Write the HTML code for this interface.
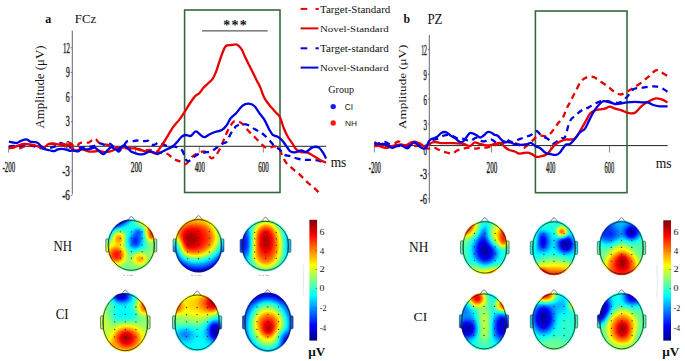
<!DOCTYPE html>
<html><head><meta charset="utf-8"><style>
html,body{margin:0;padding:0;background:#fff;width:685px;height:361px;overflow:hidden}
svg{display:block}
text{font-family:"Liberation Serif",serif;fill:#111}
</style></head><body>
<svg width="685" height="361" viewBox="0 0 685 361">
<defs>
<filter id="jet" color-interpolation-filters="sRGB" x="0" y="0" width="1" height="1">
<feComponentTransfer>
<feFuncR type="table" tableValues="0 0 0 0 0.5 1 1 1 0.5"/>
<feFuncG type="table" tableValues="0 0 0.5 1 1 1 0.5 0 0"/>
<feFuncB type="table" tableValues="0.5 1 1 1 0.5 0 0 0 0"/>
</feComponentTransfer>
</filter>
<linearGradient id="gg" x1="0" y1="1" x2="0" y2="0"><stop offset="0" stop-color="#000"/><stop offset="1" stop-color="#fff"/></linearGradient>
<filter id="bl1" color-interpolation-filters="sRGB" x="-150%" y="-150%" width="400%" height="400%"><feGaussianBlur stdDeviation="0.5"/></filter>
<filter id="bl2" color-interpolation-filters="sRGB" x="-150%" y="-150%" width="400%" height="400%"><feGaussianBlur stdDeviation="1.0"/></filter>
<filter id="bl3" color-interpolation-filters="sRGB" x="-150%" y="-150%" width="400%" height="400%"><feGaussianBlur stdDeviation="1.5"/></filter>
<filter id="bl4" color-interpolation-filters="sRGB" x="-150%" y="-150%" width="400%" height="400%"><feGaussianBlur stdDeviation="2.0"/></filter>
<filter id="bl5" color-interpolation-filters="sRGB" x="-150%" y="-150%" width="400%" height="400%"><feGaussianBlur stdDeviation="2.5"/></filter>
<filter id="bl6" color-interpolation-filters="sRGB" x="-150%" y="-150%" width="400%" height="400%"><feGaussianBlur stdDeviation="3.0"/></filter>
<filter id="bl7" color-interpolation-filters="sRGB" x="-150%" y="-150%" width="400%" height="400%"><feGaussianBlur stdDeviation="3.5"/></filter>
<filter id="bl8" color-interpolation-filters="sRGB" x="-150%" y="-150%" width="400%" height="400%"><feGaussianBlur stdDeviation="4.0"/></filter>
<filter id="bl9" color-interpolation-filters="sRGB" x="-150%" y="-150%" width="400%" height="400%"><feGaussianBlur stdDeviation="4.5"/></filter>
<filter id="bl10" color-interpolation-filters="sRGB" x="-150%" y="-150%" width="400%" height="400%"><feGaussianBlur stdDeviation="5.0"/></filter>
<filter id="bl11" color-interpolation-filters="sRGB" x="-150%" y="-150%" width="400%" height="400%"><feGaussianBlur stdDeviation="5.5"/></filter>
<filter id="bl12" color-interpolation-filters="sRGB" x="-150%" y="-150%" width="400%" height="400%"><feGaussianBlur stdDeviation="6.0"/></filter>
<filter id="bl13" color-interpolation-filters="sRGB" x="-150%" y="-150%" width="400%" height="400%"><feGaussianBlur stdDeviation="6.5"/></filter>
<filter id="bl14" color-interpolation-filters="sRGB" x="-150%" y="-150%" width="400%" height="400%"><feGaussianBlur stdDeviation="7.0"/></filter>
<filter id="bl15" color-interpolation-filters="sRGB" x="-150%" y="-150%" width="400%" height="400%"><feGaussianBlur stdDeviation="7.5"/></filter>
</defs>
<text transform="translate(45.34,22.57) scale(0.907,1)" font-size="13.33" font-weight="bold">a</text>
<text transform="translate(74.81,22.57) scale(0.984,1)" font-size="13.13">FCz</text>
<text transform="translate(44.14,128.43) rotate(-90) scale(1.125,1)" font-size="11.43">Amplitude (μV)</text>
<line x1="72.3" y1="30.7" x2="72.3" y2="194.5" stroke="#555" stroke-width="0.9"/>
<line x1="8.4" y1="146.3" x2="326.3" y2="146.3" stroke="#222" stroke-width="1"/>
<text transform="translate(62.98,52.65) scale(0.465,1)" font-size="14.85" fill="#222" stroke="#333" stroke-width="0.45">12</text>
<line x1="70.8" y1="47.75" x2="72.3" y2="47.75" stroke="#444" stroke-width="0.7"/>
<text transform="translate(65.97,77.15) scale(0.525,1)" font-size="14.63" fill="#222" stroke="#333" stroke-width="0.45">9</text>
<line x1="70.8" y1="72.4" x2="72.3" y2="72.4" stroke="#444" stroke-width="0.7"/>
<text transform="translate(65.85,101.80) scale(0.531,1)" font-size="14.63" fill="#222" stroke="#333" stroke-width="0.45">6</text>
<line x1="70.8" y1="97.05" x2="72.3" y2="97.05" stroke="#444" stroke-width="0.7"/>
<text transform="translate(65.80,126.45) scale(0.550,1)" font-size="14.63" fill="#222" stroke="#333" stroke-width="0.45">3</text>
<line x1="70.8" y1="121.7" x2="72.3" y2="121.7" stroke="#444" stroke-width="0.7"/>
<text transform="translate(65.89,151.10) scale(0.541,1)" font-size="14.52" fill="#222" stroke="#333" stroke-width="0.45">0</text>
<line x1="70.8" y1="146.35" x2="72.3" y2="146.35" stroke="#444" stroke-width="0.7"/>
<text transform="translate(62.18,175.75) scale(0.630,1)" font-size="14.63" fill="#222" stroke="#333" stroke-width="0.45">-3</text>
<line x1="70.8" y1="171" x2="72.3" y2="171" stroke="#444" stroke-width="0.7"/>
<text transform="translate(62.18,200.40) scale(0.622,1)" font-size="14.63" fill="#222" stroke="#333" stroke-width="0.45">-6</text>
<line x1="70.8" y1="195.65" x2="72.3" y2="195.65" stroke="#444" stroke-width="0.7"/>
<text transform="translate(2.56,171.85) scale(0.446,1)" font-size="15.41" fill="#222" stroke="#333" stroke-width="0.45">-200</text>
<line x1="8.6" y1="146.3" x2="8.6" y2="152.5" stroke="#555" stroke-width="0.7"/>
<text transform="translate(130.77,171.85) scale(0.482,1)" font-size="15.41" fill="#222" stroke="#333" stroke-width="0.45">200</text>
<line x1="135.5" y1="146.3" x2="135.5" y2="152.5" stroke="#555" stroke-width="0.7"/>
<text transform="translate(194.66,171.85) scale(0.446,1)" font-size="15.41" fill="#222" stroke="#333" stroke-width="0.45">400</text>
<line x1="199.3" y1="146.3" x2="199.3" y2="152.5" stroke="#555" stroke-width="0.7"/>
<text transform="translate(258.29,171.85) scale(0.454,1)" font-size="15.41" fill="#222" stroke="#333" stroke-width="0.45">600</text>
<line x1="263.3" y1="146.3" x2="263.3" y2="152.5" stroke="#555" stroke-width="0.7"/>
<text transform="translate(330.63,167.46) scale(0.964,1)" font-size="13.96">ms</text>
<rect x="184.6" y="10" width="95.4" height="182.5" fill="none" stroke="#37683c" stroke-width="1.6"/>
<text transform="translate(223.24,29.78) scale(0.953,1)" font-size="14.67" font-weight="bold">*</text>
<text transform="translate(231.54,29.78) scale(0.953,1)" font-size="14.67" font-weight="bold">*</text>
<text transform="translate(239.84,29.78) scale(0.953,1)" font-size="14.67" font-weight="bold">*</text>
<line x1="201.9" y1="30.9" x2="267.7" y2="30.9" stroke="#333" stroke-width="1"/>
<path d="M8.9 148.3 C9.9 148.2 12.9 147.4 14.7 147.4 C16.5 147.4 17.9 148.5 19.5 148.3 C21.1 148.1 22.4 146.8 24.4 146.4 C26.3 146.0 28.9 145.8 31.2 145.9 C33.5 146.0 36.2 146.6 38.0 146.9 C39.8 147.2 40.5 147.9 41.8 147.9 C43.1 147.9 44.3 147.6 45.7 146.9 C47.1 146.2 48.3 144.4 50.0 144.0 C51.7 143.6 53.7 144.3 55.8 144.5 C57.9 144.7 61.0 145.1 62.6 145.4 C64.2 145.7 64.4 146.8 65.5 146.4 C66.6 146.0 68.4 143.4 69.4 143.0 C70.4 142.6 70.3 143.3 71.3 144.0 C72.3 144.7 74.1 146.7 75.2 146.9 C76.3 147.1 77.3 145.7 78.1 145.0 C78.9 144.3 78.7 143.4 80.0 143.0 C81.3 142.6 84.4 142.6 85.9 142.5 C87.4 142.4 87.3 143.1 88.8 142.5 C90.2 141.9 93.1 138.9 94.6 138.7 C96.0 138.5 96.6 140.3 97.5 141.1 C98.4 141.9 98.8 142.9 100.0 143.5 C101.2 144.1 102.9 144.2 104.4 144.4 C105.9 144.7 107.4 144.6 108.9 145.0 C110.4 145.4 111.8 146.2 113.3 146.6 C114.8 147.0 116.2 147.4 117.7 147.7 C119.2 148.0 120.7 148.2 122.2 148.3 C123.7 148.4 125.1 148.2 126.6 148.3 C128.1 148.4 129.5 148.7 131.0 148.8 C132.5 148.9 134.0 148.6 135.5 148.8 C137.0 149.0 138.4 149.7 139.9 150.0 C141.4 150.3 142.6 150.5 144.3 150.5 C146.0 150.5 148.0 149.8 149.9 150.0 C151.8 150.2 153.9 151.0 156.0 151.5 C158.1 152.0 160.7 152.8 162.6 153.2 C164.5 153.6 166.2 153.4 167.6 154.0 C169.0 154.6 169.7 155.6 170.9 156.5 C172.1 157.4 173.5 158.7 175.0 159.5 C176.5 160.3 178.2 160.8 180.0 161.5 C181.8 162.2 184.0 164.7 186.0 164.0 C188.0 163.3 189.9 159.0 191.8 157.2 C193.7 155.4 195.7 154.3 197.6 153.3 C199.5 152.3 201.9 151.4 203.5 151.4 C205.1 151.4 206.0 152.2 207.3 153.3 C208.6 154.4 209.9 157.7 211.2 158.2 C212.5 158.7 213.8 157.5 215.1 156.2 C216.4 154.9 217.9 152.3 219.0 150.4 C220.1 148.5 220.8 147.2 221.9 144.6 C223.0 142.0 224.5 137.8 225.8 134.9 C227.1 132.0 228.3 129.3 229.6 127.1 C230.9 124.9 232.4 122.8 233.5 121.8 C234.6 120.8 234.6 121.0 236.0 121.3 C237.4 121.5 239.9 121.8 241.8 123.3 C243.7 124.8 245.7 128.0 247.6 130.1 C249.5 132.2 251.6 134.0 253.5 135.9 C255.4 137.8 257.5 139.9 259.3 141.7 C261.1 143.5 262.7 145.4 264.1 146.5 C265.6 147.6 266.7 148.0 268.0 148.1 C269.3 148.2 270.6 147.2 271.9 146.9 C273.2 146.6 274.5 146.1 275.8 146.5 C277.1 146.9 278.5 147.8 279.6 149.4 C280.7 151.0 281.4 154.0 282.5 156.2 C283.6 158.4 284.3 160.4 286.0 162.5 C287.7 164.6 290.2 166.5 292.5 168.6 C294.8 170.7 297.5 172.5 300.0 174.8 C302.5 177.1 304.9 180.0 307.4 182.3 C309.9 184.6 312.6 186.5 314.9 188.6 C317.2 190.7 320.1 193.8 321.1 194.8" fill="none" stroke="#e80000" stroke-width="2.3" stroke-linejoin="round" stroke-dasharray="6 4.5"/>

<path d="M8.9 146.4 C9.7 146.3 12.2 145.9 13.7 145.9 C15.1 145.9 15.8 146.6 17.6 146.4 C19.4 146.2 22.0 145.2 24.4 145.0 C26.8 144.8 30.2 145.1 32.1 145.4 C34.0 145.7 34.7 146.5 36.0 146.9 C37.3 147.3 38.5 147.8 40.0 148.0 C41.5 148.2 43.3 148.3 45.0 148.3 C46.7 148.3 47.9 148.5 50.0 148.0 C52.1 147.5 56.0 146.2 57.8 145.4 C59.6 144.6 59.6 143.1 60.7 143.0 C61.8 142.9 63.2 144.6 64.5 145.0 C65.8 145.4 67.1 144.8 68.4 145.4 C69.7 146.0 70.7 148.1 72.3 148.5 C73.9 148.9 75.9 148.2 78.0 148.0 C80.1 147.8 82.7 147.2 85.0 147.0 C87.3 146.8 90.0 146.8 92.0 146.5 C94.0 146.2 95.7 145.5 97.0 145.0 C98.3 144.5 99.0 143.4 100.0 143.3 C101.0 143.2 102.2 144.1 103.3 144.4 C104.4 144.7 105.6 145.1 106.7 145.0 C107.8 144.9 109.1 143.7 110.0 143.8 C110.9 143.9 111.3 144.7 112.2 145.5 C113.1 146.3 114.4 147.8 115.5 148.8 C116.6 149.8 117.9 151.6 118.8 151.6 C119.7 151.6 120.2 149.9 121.1 148.8 C122.0 147.7 123.5 146.1 124.4 144.9 C125.3 143.7 125.7 142.2 126.6 141.6 C127.5 141.0 128.8 141.2 129.9 141.1 C131.0 141.0 132.2 141.2 133.3 141.1 C134.4 141.0 135.3 140.5 136.6 140.5 C137.9 140.5 139.5 141.0 141.0 141.1 C142.5 141.2 144.2 141.1 145.5 141.1 C146.8 141.1 147.6 140.4 148.5 140.9 C149.4 141.4 150.0 143.3 151.0 144.0 C152.0 144.7 152.9 145.2 154.3 144.9 C155.7 144.6 157.4 142.3 159.3 142.4 C161.2 142.5 163.8 145.0 166.0 145.7 C168.2 146.4 170.7 146.2 172.6 146.5 C174.5 146.8 176.1 146.8 177.6 147.4 C179.1 148.0 180.6 148.7 181.7 149.9 C182.8 151.1 183.5 153.2 184.2 154.8 C184.9 156.5 185.2 158.8 186.0 159.8 C186.8 160.8 187.7 161.4 189.0 161.0 C190.3 160.6 192.0 158.5 193.8 157.2 C195.6 155.9 197.7 154.1 199.6 153.3 C201.5 152.5 203.5 152.7 205.4 152.4 C207.3 152.1 209.3 152.2 211.2 151.4 C213.1 150.6 215.1 148.8 217.0 147.5 C218.9 146.2 221.2 144.6 222.8 143.6 C224.4 142.6 225.4 143.3 226.7 141.7 C228.0 140.1 229.3 136.1 230.6 133.9 C231.9 131.7 233.6 129.9 234.5 128.6 C235.4 127.3 234.8 126.9 236.0 126.2 C237.2 125.5 239.7 124.4 241.8 124.2 C243.9 124.0 246.5 124.4 248.6 125.2 C250.7 126.0 252.5 128.0 254.4 129.1 C256.3 130.2 258.4 130.9 260.2 132.0 C262.0 133.1 263.5 134.5 265.1 135.9 C266.7 137.3 268.3 138.9 269.9 140.7 C271.5 142.5 273.2 145.1 274.8 146.5 C276.4 147.9 278.1 148.1 279.6 149.4 C281.1 150.7 282.0 153.3 283.7 154.4 C285.4 155.5 287.7 155.4 290.0 156.1 C292.3 156.8 295.0 158.0 297.5 158.6 C300.0 159.2 302.4 159.7 304.9 159.9 C307.4 160.1 309.9 159.7 312.4 159.9 C314.9 160.1 317.8 160.3 319.9 161.1 C322.0 161.9 324.1 164.3 324.9 164.9" fill="none" stroke="#0000e0" stroke-width="2.3" stroke-linejoin="round" stroke-dasharray="6 4.5"/>

<path d="M8.9 147.9 C9.9 147.7 12.9 147.4 14.7 146.9 C16.5 146.4 17.9 145.5 19.5 145.0 C21.1 144.5 22.6 144.1 24.4 144.0 C26.2 143.9 28.6 144.3 30.2 144.5 C31.8 144.7 32.8 144.7 34.1 145.0 C35.4 145.3 36.7 145.9 38.0 146.4 C39.3 146.9 40.5 147.9 41.8 147.9 C43.1 147.9 44.6 147.1 45.7 146.4 C46.8 145.8 47.3 144.5 48.6 144.0 C49.9 143.5 51.5 143.4 53.4 143.5 C55.2 143.6 58.0 144.4 59.7 144.5 C61.4 144.6 62.3 143.9 63.6 144.0 C64.9 144.1 66.4 144.9 67.4 145.0 C68.4 145.1 68.8 144.3 69.4 144.5 C70.1 144.7 70.7 145.4 71.3 146.4 C71.9 147.4 72.3 149.7 73.3 150.3 C74.3 151.0 75.6 150.5 77.1 150.3 C78.5 150.1 80.4 149.2 82.0 149.3 C83.6 149.4 85.3 150.4 86.8 150.8 C88.2 151.2 89.2 151.6 90.7 151.7 C92.2 151.8 94.0 151.4 95.5 151.3 C97.0 151.2 98.3 150.9 100.0 151.1 C101.7 151.2 103.7 152.2 105.5 152.2 C107.3 152.2 109.2 151.7 111.1 151.1 C112.9 150.5 114.8 149.4 116.6 148.8 C118.4 148.2 120.5 148.0 122.2 147.7 C123.9 147.4 125.1 147.1 126.6 147.2 C128.1 147.3 129.5 148.1 131.0 148.3 C132.5 148.5 134.0 148.1 135.5 148.3 C137.0 148.5 138.4 148.9 139.9 149.4 C141.4 149.9 142.6 150.7 144.3 151.1 C146.0 151.5 148.1 151.2 149.9 151.6 C151.7 151.9 153.5 153.6 155.1 153.2 C156.7 152.8 157.8 150.9 159.3 149.0 C160.8 147.1 162.6 144.1 164.3 141.5 C166.0 138.9 167.8 135.7 169.3 133.2 C170.8 130.7 171.8 128.8 173.4 126.6 C175.1 124.4 177.3 122.3 179.2 119.9 C181.1 117.5 182.9 114.6 184.6 112.0 C186.3 109.4 187.5 107.1 189.2 104.5 C190.9 101.9 193.2 98.4 194.9 96.5 C196.6 94.6 197.8 94.7 199.3 93.2 C200.8 91.7 202.2 89.3 203.7 87.6 C205.2 85.9 206.7 84.7 208.2 83.2 C209.7 81.7 211.3 80.7 212.6 78.8 C213.9 76.9 214.8 74.9 215.9 72.1 C217.0 69.3 218.1 65.5 219.2 62.2 C220.3 58.9 221.6 55.0 222.6 52.5 C223.6 50.0 224.3 48.4 225.0 47.2 C225.7 46.0 225.8 45.7 227.0 45.3 C228.2 44.9 230.5 45.1 232.0 45.0 C233.5 44.9 234.9 44.3 236.0 44.4 C237.1 44.5 237.5 44.7 238.5 45.6 C239.5 46.5 240.9 48.2 242.0 50.0 C243.1 51.8 243.7 54.0 244.9 56.6 C246.1 59.2 248.0 62.9 249.3 65.5 C250.6 68.1 251.3 69.5 252.6 72.1 C253.9 74.7 255.7 78.4 257.0 81.0 C258.3 83.6 259.3 85.0 260.4 87.6 C261.5 90.2 262.6 94.1 263.7 96.5 C264.8 98.9 265.7 100.2 267.0 102.0 C268.3 103.8 270.0 105.8 271.5 107.6 C273.0 109.3 274.5 110.9 275.9 112.5 C277.3 114.1 278.6 114.4 279.9 117.0 C281.2 119.6 282.4 124.8 283.7 128.0 C285.0 131.2 286.0 133.6 287.5 136.2 C289.0 138.8 291.1 141.5 292.5 143.7 C293.9 145.9 294.8 148.0 296.2 149.4 C297.6 150.8 299.3 151.7 301.2 152.2 C303.1 152.7 305.3 151.9 307.4 152.6 C309.5 153.2 311.6 154.9 313.7 156.1 C315.8 157.3 317.8 158.8 319.9 159.9 C322.0 161.0 325.1 162.2 326.1 162.6" fill="none" stroke="#e80000" stroke-width="2.3" stroke-linejoin="round"/>

<path d="M8.9 141.6 C9.6 141.8 11.5 142.3 12.8 142.5 C14.1 142.7 15.3 143.2 16.6 143.0 C17.9 142.8 19.2 141.7 20.5 141.1 C21.8 140.5 23.3 139.8 24.4 139.6 C25.5 139.3 26.3 139.3 27.3 139.6 C28.3 139.9 29.1 141.2 30.2 141.6 C31.3 142.0 33.0 141.9 34.1 142.1 C35.2 142.2 36.0 142.0 37.0 142.5 C38.0 143.0 38.8 143.9 39.9 145.0 C41.0 146.1 42.5 148.0 43.8 148.8 C45.1 149.6 46.3 149.5 47.6 149.8 C48.9 150.1 50.4 150.6 51.5 150.8 C52.6 151.0 53.4 151.2 54.4 151.0 C55.4 150.8 56.6 149.7 57.8 149.3 C59.0 148.9 60.3 148.8 61.6 148.8 C62.9 148.8 64.2 149.0 65.5 149.3 C66.8 149.6 68.1 150.6 69.4 150.8 C70.7 151.0 71.8 150.2 73.3 150.3 C74.8 150.4 76.6 151.6 78.1 151.3 C79.5 151.1 80.5 149.1 82.0 148.8 C83.5 148.5 85.3 149.3 86.8 149.3 C88.2 149.3 89.4 149.1 90.7 148.8 C92.0 148.5 93.3 147.3 94.6 147.6 C95.9 147.8 97.0 149.2 98.4 150.3 C99.9 151.4 101.9 154.1 103.3 154.2 C104.7 154.3 105.4 152.3 106.7 151.1 C108.0 149.9 109.8 147.6 111.1 147.2 C112.4 146.8 113.3 148.3 114.4 148.8 C115.5 149.3 116.6 150.3 117.7 150.0 C118.8 149.7 120.0 147.9 121.1 147.2 C122.2 146.4 123.3 145.3 124.4 145.5 C125.5 145.7 126.6 147.3 127.7 148.3 C128.8 149.3 129.7 150.8 131.0 151.6 C132.3 152.4 134.0 152.8 135.5 153.3 C137.0 153.8 138.4 154.3 139.9 154.4 C141.4 154.5 142.6 154.3 144.3 153.8 C146.0 153.3 148.3 151.5 149.9 151.3 C151.5 151.1 152.7 152.1 154.0 152.5 C155.3 152.9 156.2 154.2 157.6 154.0 C159.0 153.8 160.9 152.3 162.6 151.5 C164.3 150.7 165.9 149.8 167.6 149.0 C169.3 148.2 170.9 147.8 172.6 146.5 C174.3 145.2 176.1 143.2 177.6 141.5 C179.1 139.8 180.3 137.7 181.7 136.6 C183.1 135.5 184.5 135.1 186.0 135.0 C187.5 134.9 189.2 136.5 190.8 135.9 C192.4 135.3 194.1 131.6 195.7 131.4 C197.3 131.2 199.1 133.9 200.5 134.9 C201.9 135.9 202.9 137.3 204.4 137.2 C205.9 137.1 207.5 135.4 209.3 134.5 C211.1 133.6 213.0 132.7 215.1 132.0 C217.2 131.3 220.0 131.2 221.9 130.1 C223.8 129.0 225.2 127.2 226.7 125.2 C228.1 123.2 229.0 120.4 230.6 118.4 C232.2 116.4 234.0 115.5 236.0 113.4 C238.0 111.3 240.5 107.2 242.6 105.6 C244.7 104.0 246.6 103.5 248.6 103.6 C250.6 103.7 252.6 104.4 254.4 106.0 C256.2 107.6 257.8 110.9 259.3 113.0 C260.9 115.1 262.4 116.7 263.7 118.7 C265.0 120.7 266.1 123.3 267.0 125.0 C267.9 126.7 268.0 127.4 269.0 129.1 C270.0 130.8 271.4 133.6 272.8 134.9 C274.2 136.2 276.2 136.0 277.7 136.8 C279.2 137.6 280.2 138.3 281.6 139.8 C283.0 141.3 284.6 143.7 286.0 145.6 C287.4 147.5 288.5 150.0 290.0 151.1 C291.5 152.2 293.1 152.5 295.0 152.4 C296.9 152.3 299.3 150.5 301.2 150.4 C303.1 150.3 304.3 152.4 306.2 151.9 C308.1 151.4 310.3 148.2 312.4 147.4 C314.5 146.7 316.8 146.4 318.7 147.4 C320.6 148.4 322.4 151.7 323.6 153.6 C324.8 155.5 325.7 157.8 326.1 158.6" fill="none" stroke="#0000e0" stroke-width="2.3" stroke-linejoin="round"/>

<line x1="300.6" y1="8.9" x2="307.3" y2="8.9" stroke="#e80000" stroke-width="2"/><line x1="315.5" y1="8.9" x2="318.8" y2="8.9" stroke="#e80000" stroke-width="2"/>
<text transform="translate(320.08,12.52) scale(1.135,1)" font-size="9.67" fill="#222">Target-Standard</text>
<line x1="300.6" y1="28.4" x2="318.4" y2="28.4" stroke="#e80000" stroke-width="2"/>
<text transform="translate(319.97,31.71) scale(1.215,1)" font-size="8.94" fill="#222">Novel-Standard</text>
<line x1="300.6" y1="48.3" x2="307.3" y2="48.3" stroke="#0000e0" stroke-width="2"/><line x1="315.5" y1="48.3" x2="318.8" y2="48.3" stroke="#0000e0" stroke-width="2"/>
<text transform="translate(320.08,51.77) scale(1.167,1)" font-size="9.45" fill="#222">Target-standard</text>
<line x1="300.6" y1="67.6" x2="318.4" y2="67.6" stroke="#0000e0" stroke-width="2"/>
<text transform="translate(319.97,71.21) scale(1.235,1)" font-size="8.79" fill="#222">Novel-Standard</text>
<text transform="translate(328.30,93.01) scale(0.947,1)" font-size="10.63">Group</text>
<circle cx="333.2" cy="106.6" r="2.7" fill="#1a1aff"/>
<text transform="translate(344.78,109.82) scale(0.983,1)" font-size="8.45" style='font-family:"Liberation Sans",sans-serif' fill="#333">CI</text>
<circle cx="333.2" cy="123.0" r="2.7" fill="#ff1a1a"/>
<text transform="translate(344.94,126.10) scale(1.039,1)" font-size="7.97" style='font-family:"Liberation Sans",sans-serif' fill="#333">NH</text>
<text transform="translate(53.42,251.20) scale(0.920,1)" font-size="13.89">NH</text>
<text transform="translate(55.69,318.76) scale(0.947,1)" font-size="13.58">CI</text>
<text transform="translate(403.52,22.58) scale(0.967,1)" font-size="12.20" font-weight="bold">b</text>
<text transform="translate(427.41,23.80) scale(0.923,1)" font-size="14.05">PZ</text>
<text transform="translate(406.31,128.93) rotate(-90) scale(1.228,1)" font-size="10.66">Amplitude (μV)</text>
<line x1="429.3" y1="35" x2="429.3" y2="203" stroke="#555" stroke-width="0.9"/>
<line x1="374.2" y1="145.6" x2="667.7" y2="145.6" stroke="#222" stroke-width="1"/>
<text transform="translate(421.17,55.10) scale(0.378,1)" font-size="15.45" fill="#333" stroke="#333" stroke-width="0.45">12</text>
<line x1="427.8" y1="49.4" x2="429.3" y2="49.4" stroke="#444" stroke-width="0.7"/>
<text transform="translate(423.60,79.85) scale(0.443,1)" font-size="15.22" fill="#333" stroke="#333" stroke-width="0.45">9</text>
<line x1="427.8" y1="74.30000000000001" x2="429.3" y2="74.30000000000001" stroke="#444" stroke-width="0.7"/>
<text transform="translate(423.49,104.75) scale(0.448,1)" font-size="15.22" fill="#333" stroke="#333" stroke-width="0.45">6</text>
<line x1="427.8" y1="99.2" x2="429.3" y2="99.2" stroke="#444" stroke-width="0.7"/>
<text transform="translate(423.45,129.65) scale(0.465,1)" font-size="15.22" fill="#333" stroke="#333" stroke-width="0.45">3</text>
<line x1="427.8" y1="124.10000000000001" x2="429.3" y2="124.10000000000001" stroke="#444" stroke-width="0.7"/>
<text transform="translate(423.52,154.55) scale(0.457,1)" font-size="15.11" fill="#333" stroke="#333" stroke-width="0.45">0</text>
<line x1="427.8" y1="149.0" x2="429.3" y2="149.0" stroke="#444" stroke-width="0.7"/>
<text transform="translate(419.90,179.45) scale(0.562,1)" font-size="15.22" fill="#333" stroke="#333" stroke-width="0.45">-3</text>
<line x1="427.8" y1="173.9" x2="429.3" y2="173.9" stroke="#444" stroke-width="0.7"/>
<text transform="translate(419.90,204.35) scale(0.554,1)" font-size="15.22" fill="#333" stroke="#333" stroke-width="0.45">-6</text>
<line x1="427.8" y1="198.8" x2="429.3" y2="198.8" stroke="#444" stroke-width="0.7"/>
<text transform="translate(368.67,172.54) scale(0.415,1)" font-size="16.00" fill="#333" stroke="#333" stroke-width="0.45">-200</text>
<line x1="374.4" y1="145.6" x2="374.4" y2="152.5" stroke="#555" stroke-width="0.7"/>
<text transform="translate(486.58,172.54) scale(0.450,1)" font-size="15.85" fill="#333" stroke="#333" stroke-width="0.45">200</text>
<line x1="491.5" y1="145.6" x2="491.5" y2="152.5" stroke="#555" stroke-width="0.7"/>
<text transform="translate(546.08,172.54) scale(0.391,1)" font-size="16.00" fill="#333" stroke="#333" stroke-width="0.45">400</text>
<line x1="550.6" y1="145.6" x2="550.6" y2="152.5" stroke="#555" stroke-width="0.7"/>
<text transform="translate(604.61,172.54) scale(0.410,1)" font-size="15.85" fill="#333" stroke="#333" stroke-width="0.45">600</text>
<line x1="609.5" y1="145.6" x2="609.5" y2="152.5" stroke="#555" stroke-width="0.7"/>
<text transform="translate(655.73,168.46) scale(0.977,1)" font-size="13.96">ms</text>
<rect x="535.4" y="11" width="91.6" height="181.7" fill="none" stroke="#37683c" stroke-width="1.6"/>
<path d="M374.4 146.0 C375.3 146.0 378.1 145.9 380.0 146.0 C381.9 146.1 384.0 146.6 386.0 146.5 C388.0 146.4 390.0 146.3 392.0 145.5 C394.0 144.7 396.3 141.8 398.0 141.5 C399.7 141.2 400.7 142.8 402.0 143.5 C403.3 144.2 403.8 145.1 406.0 145.5 C408.2 145.9 412.7 145.9 415.0 146.0 C417.3 146.1 418.5 145.8 420.0 146.0 C421.5 146.2 422.5 147.1 424.0 147.5 C425.5 147.9 427.3 148.6 428.9 148.6 C430.4 148.6 431.8 147.4 433.3 147.5 C434.8 147.6 436.2 148.5 437.7 149.2 C439.2 149.8 440.7 150.8 442.2 151.4 C443.7 152.0 444.9 152.1 446.6 152.5 C448.3 152.9 450.5 153.9 452.2 153.6 C453.9 153.3 455.1 151.5 456.6 150.8 C458.1 150.1 459.5 149.6 461.0 149.2 C462.5 148.8 464.0 148.4 465.5 148.1 C467.0 147.8 468.1 147.4 470.0 147.5 C471.9 147.6 474.8 148.6 476.6 148.6 C478.5 148.6 479.4 147.7 481.1 147.5 C482.8 147.3 484.8 147.7 486.6 147.5 C488.4 147.3 490.2 147.0 492.1 146.4 C494.0 145.8 496.2 144.7 497.7 144.1 C499.2 143.5 499.7 143.4 501.0 143.0 C502.3 142.6 503.9 142.0 505.4 141.9 C506.9 141.8 508.4 142.3 509.9 142.5 C511.4 142.7 512.8 142.7 514.3 143.0 C515.8 143.3 517.2 143.6 518.7 144.5 C520.2 145.4 521.5 148.1 523.0 148.2 C524.5 148.3 526.1 146.2 527.6 145.0 C529.1 143.8 530.8 142.2 532.3 140.9 C533.8 139.6 535.0 137.8 536.3 136.9 C537.6 136.0 538.5 135.7 540.3 135.6 C542.1 135.5 545.1 136.7 546.9 136.3 C548.7 135.9 549.6 134.4 550.9 133.0 C552.2 131.6 553.6 129.4 554.9 127.6 C556.2 125.8 557.6 123.9 558.9 122.3 C560.2 120.7 561.6 120.0 562.9 117.7 C564.2 115.4 565.6 110.8 566.8 108.2 C568.0 105.7 568.6 105.0 570.0 102.4 C571.4 99.8 573.1 95.9 575.0 92.4 C576.9 88.9 579.1 83.8 581.2 81.2 C583.3 78.6 585.4 77.7 587.5 77.0 C589.6 76.3 591.6 76.3 593.7 77.0 C595.8 77.7 597.6 79.7 599.9 81.2 C602.2 82.7 605.1 84.5 607.4 86.2 C609.7 87.9 611.5 89.8 613.6 91.2 C615.8 92.6 618.1 94.4 620.3 94.5 C622.5 94.6 624.6 92.9 626.8 91.8 C629.0 90.7 631.0 89.4 633.4 87.9 C635.8 86.4 638.7 84.6 641.3 82.6 C643.9 80.6 646.8 78.1 649.2 76.1 C651.6 74.0 653.8 71.0 655.8 70.3 C657.8 69.6 659.1 71.1 661.1 72.1 C663.1 73.1 666.5 75.4 667.6 76.1" fill="none" stroke="#e80000" stroke-width="2.3" stroke-linejoin="round" stroke-dasharray="6 4.5"/>

<path d="M374.4 145.0 C375.3 144.7 378.2 143.5 380.0 143.0 C381.8 142.5 383.3 141.8 385.0 142.0 C386.7 142.2 388.3 143.8 390.0 144.5 C391.7 145.2 393.3 145.8 395.0 146.0 C396.7 146.2 398.3 145.8 400.0 146.0 C401.7 146.2 403.3 147.2 405.0 147.0 C406.7 146.8 408.3 145.7 410.0 145.0 C411.7 144.3 413.3 143.0 415.0 143.0 C416.7 143.0 418.3 144.5 420.0 145.0 C421.7 145.5 423.5 146.1 425.0 146.0 C426.5 145.9 427.7 145.1 428.9 144.2 C430.1 143.2 430.7 141.2 432.2 140.3 C433.7 139.4 435.7 139.4 437.7 138.6 C439.7 137.8 442.2 135.9 444.4 135.3 C446.6 134.8 449.0 134.8 451.0 135.3 C453.0 135.8 454.9 137.6 456.6 138.1 C458.3 138.6 459.6 137.9 461.0 138.1 C462.4 138.3 463.5 139.1 465.0 139.5 C466.5 139.9 468.4 141.0 470.0 140.8 C471.6 140.7 473.1 139.2 474.4 138.6 C475.7 138.0 476.7 137.1 477.8 137.5 C478.9 137.9 480.0 140.2 481.1 140.8 C482.2 141.5 483.1 141.6 484.4 141.4 C485.7 141.2 487.5 140.0 488.8 139.7 C490.1 139.4 490.8 139.1 492.1 139.7 C493.4 140.2 494.9 142.3 496.6 143.0 C498.3 143.7 500.6 144.3 502.1 143.6 C503.6 142.9 504.3 139.1 505.4 138.6 C506.5 138.1 507.7 140.2 508.8 140.8 C509.9 141.4 510.8 142.0 512.1 141.9 C513.4 141.8 515.1 140.8 516.5 140.3 C517.9 139.8 518.8 139.5 520.3 138.9 C521.8 138.3 523.8 137.6 525.6 136.9 C527.4 136.2 529.2 136.0 531.0 135.0 C532.8 134.0 534.5 130.9 536.3 131.0 C538.1 131.1 539.8 134.4 541.6 135.6 C543.4 136.8 545.4 137.3 546.9 138.3 C548.4 139.3 549.8 140.7 550.9 141.6 C552.0 142.5 552.5 143.7 553.6 143.6 C554.7 143.5 556.3 141.8 557.6 140.9 C558.9 140.0 560.3 139.0 561.5 138.3 C562.7 137.6 563.6 139.8 565.0 136.9 C566.4 134.0 568.1 124.8 570.0 121.1 C571.9 117.4 574.1 116.8 576.2 114.9 C578.3 113.0 580.4 111.2 582.5 109.9 C584.6 108.7 586.6 108.4 588.7 107.4 C590.8 106.4 592.8 104.7 594.9 103.7 C597.0 102.7 599.1 101.6 601.2 101.2 C603.3 100.8 605.3 101.0 607.4 101.2 C609.5 101.4 611.5 102.2 613.6 102.4 C615.8 102.6 618.1 103.3 620.3 102.4 C622.5 101.5 624.6 99.3 626.8 97.1 C629.0 94.9 631.0 90.7 633.4 89.2 C635.8 87.7 638.7 88.3 641.3 87.9 C643.9 87.5 646.6 86.8 649.2 86.6 C651.8 86.4 654.7 86.2 657.1 86.6 C659.5 87.0 662.0 88.3 663.7 89.2 C665.5 90.1 667.0 91.4 667.6 91.8" fill="none" stroke="#0000e0" stroke-width="2.3" stroke-linejoin="round" stroke-dasharray="6 4.5"/>

<path d="M374.4 142.0 C375.0 142.4 376.6 143.7 377.8 144.5 C379.0 145.3 380.2 146.3 381.7 146.9 C383.1 147.5 384.9 148.0 386.5 147.9 C388.1 147.8 389.6 146.9 391.4 146.4 C393.2 145.9 395.6 145.3 397.2 145.0 C398.8 144.7 399.7 144.4 401.1 144.5 C402.6 144.6 404.3 145.7 405.9 145.4 C407.5 145.1 409.4 143.1 410.8 142.5 C412.2 141.9 413.3 141.5 414.6 141.6 C415.9 141.7 417.6 142.7 418.5 143.0 C419.4 143.3 419.0 143.0 420.0 143.6 C421.0 144.2 422.9 146.2 424.4 146.4 C425.9 146.6 427.6 145.3 428.9 144.7 C430.2 144.0 431.1 142.9 432.2 142.5 C433.3 142.1 433.8 141.9 435.5 142.0 C437.2 142.1 440.0 142.9 442.2 143.1 C444.4 143.3 446.9 143.1 448.8 143.1 C450.7 143.1 451.5 143.0 453.3 143.1 C455.1 143.2 458.1 143.4 459.9 143.6 C461.7 143.8 462.6 143.8 464.3 144.2 C466.0 144.6 468.3 146.3 470.0 146.0 C471.7 145.7 472.9 142.9 474.4 142.5 C475.9 142.1 477.4 143.2 478.9 143.6 C480.4 144.0 481.8 144.4 483.3 144.7 C484.8 145.0 486.2 145.3 487.7 145.3 C489.2 145.3 490.6 145.0 492.1 144.7 C493.6 144.4 495.1 143.9 496.6 143.6 C498.1 143.3 499.5 142.3 501.0 143.0 C502.5 143.7 503.9 146.3 505.4 147.5 C506.9 148.7 508.4 149.6 509.9 150.2 C511.4 150.8 512.8 150.8 514.3 151.3 C515.8 151.9 517.2 153.2 518.7 153.5 C520.2 153.8 521.7 153.1 523.2 153.0 C524.7 152.9 526.1 152.5 527.6 152.7 C529.1 152.9 530.5 153.4 532.0 154.1 C533.5 154.8 534.7 156.6 536.3 156.9 C537.9 157.2 539.8 156.6 541.6 156.2 C543.4 155.8 545.4 155.3 546.9 154.2 C548.4 153.1 549.6 151.1 550.9 149.6 C552.2 148.1 553.3 146.2 554.9 144.9 C556.5 143.6 558.5 142.5 560.2 141.6 C561.9 140.7 563.4 139.9 565.0 139.6 C566.6 139.2 568.3 139.7 570.0 139.5 C571.7 139.3 573.3 140.0 575.0 138.6 C576.7 137.2 578.3 133.8 580.0 131.1 C581.7 128.4 583.3 125.3 585.0 122.4 C586.7 119.5 588.4 115.6 590.0 113.6 C591.6 111.6 593.2 111.1 594.9 110.4 C596.5 109.7 598.2 109.7 599.9 109.4 C601.6 109.1 603.2 109.1 604.9 108.6 C606.6 108.1 608.2 106.6 609.9 106.6 C611.6 106.6 612.9 108.0 614.9 108.6 C616.9 109.2 619.4 109.6 621.6 110.3 C623.8 111.0 626.0 112.5 628.2 112.9 C630.4 113.3 632.5 114.0 634.7 112.9 C636.9 111.8 638.9 108.3 641.3 106.3 C643.7 104.3 646.8 102.4 649.2 101.1 C651.6 99.8 653.6 98.6 655.8 98.4 C658.0 98.2 660.4 99.0 662.4 99.7 C664.4 100.4 666.7 102.0 667.6 102.4" fill="none" stroke="#e80000" stroke-width="2.3" stroke-linejoin="round"/>

<path d="M374.4 143.0 C375.3 143.2 378.1 143.8 379.8 144.0 C381.5 144.2 383.0 143.6 384.6 144.0 C386.2 144.4 388.1 145.8 389.4 146.4 C390.7 147.1 391.0 148.0 392.3 147.9 C393.6 147.8 395.7 146.3 397.2 145.9 C398.7 145.5 399.8 145.2 401.1 145.4 C402.4 145.7 403.9 146.9 405.0 147.4 C406.1 147.9 406.9 148.7 407.9 148.3 C408.9 147.9 409.8 146.0 410.8 145.0 C411.8 144.0 412.7 142.8 413.7 142.5 C414.7 142.2 415.6 142.8 416.6 143.5 C417.6 144.2 418.4 145.6 419.5 146.4 C420.6 147.2 422.2 148.4 423.3 148.6 C424.4 148.8 425.2 148.7 426.1 147.5 C427.0 146.3 428.1 142.8 428.9 141.4 C429.7 140.0 430.2 139.8 431.1 139.2 C432.0 138.6 433.3 138.6 434.4 138.1 C435.5 137.6 436.6 137.2 437.7 136.4 C438.8 135.6 440.0 133.8 441.1 133.1 C442.2 132.4 443.3 132.0 444.4 132.0 C445.5 132.0 446.6 132.4 447.7 133.1 C448.8 133.8 449.7 135.0 451.0 135.9 C452.3 136.8 454.0 137.6 455.5 138.6 C457.0 139.6 458.6 141.5 459.9 142.0 C461.2 142.5 462.1 142.2 463.2 141.4 C464.3 140.6 465.5 138.4 466.6 137.0 C467.7 135.6 468.9 133.7 470.0 133.1 C471.1 132.5 472.2 133.2 473.3 133.6 C474.4 134.0 475.5 134.7 476.6 135.3 C477.7 136.0 478.9 137.4 480.0 137.5 C481.1 137.6 482.0 136.7 483.3 135.8 C484.6 134.9 486.4 132.6 487.7 132.0 C489.0 131.4 489.9 132.1 491.0 132.5 C492.1 132.9 493.3 134.1 494.4 134.7 C495.5 135.2 496.6 135.1 497.7 135.8 C498.8 136.6 499.9 138.1 501.0 139.2 C502.1 140.3 503.2 142.1 504.3 142.5 C505.4 142.9 506.6 141.9 507.7 141.9 C508.8 141.9 509.9 142.1 511.0 142.5 C512.1 142.9 513.0 143.7 514.3 144.1 C515.6 144.5 517.2 144.6 518.7 144.7 C520.2 144.8 521.7 144.8 523.2 144.7 C524.7 144.6 526.3 144.4 527.6 144.1 C528.9 143.8 529.7 142.5 531.0 142.9 C532.3 143.3 534.1 145.4 535.6 146.3 C537.1 147.2 538.6 147.1 540.3 148.2 C542.0 149.3 543.8 151.9 545.6 152.9 C547.4 153.9 549.1 153.9 550.9 154.2 C552.7 154.5 554.7 155.2 556.2 154.9 C557.8 154.6 559.1 153.3 560.2 152.2 C561.3 151.1 561.9 149.5 562.9 148.2 C563.9 146.9 564.8 145.2 566.0 144.5 C567.2 143.8 568.5 145.0 570.0 144.0 C571.5 143.0 573.3 140.5 575.0 138.6 C576.7 136.7 578.3 134.0 580.0 132.3 C581.7 130.6 583.3 130.9 585.0 128.6 C586.7 126.3 588.4 121.7 590.0 118.6 C591.6 115.5 593.2 112.4 594.9 109.9 C596.5 107.4 598.4 105.2 599.9 103.7 C601.4 102.2 602.0 101.4 603.7 101.2 C605.4 101.0 608.0 101.9 609.9 102.4 C611.8 102.9 613.3 103.8 615.0 104.0 C616.7 104.2 618.3 104.0 620.3 103.7 C622.3 103.4 624.4 102.7 626.8 102.4 C629.2 102.1 632.1 101.8 634.7 101.8 C637.3 101.8 640.4 102.3 642.6 102.4 C644.8 102.5 646.1 102.0 647.9 102.4 C649.7 102.8 651.2 104.3 653.2 105.0 C655.2 105.7 657.3 106.1 659.7 106.3 C662.1 106.5 666.3 106.3 667.6 106.3" fill="none" stroke="#0000e0" stroke-width="2.3" stroke-linejoin="round"/>

<text transform="translate(409.10,251.60) scale(0.936,1)" font-size="14.20">NH</text>
<text transform="translate(413.45,320.67) scale(1.054,1)" font-size="13.13">CI</text>
<clipPath id="hc0"><ellipse cx="131.3" cy="245.4" rx="24.2" ry="26.2"/><rect x="105.8" y="238.8" width="3" height="13.2" rx="1.2"/><rect x="153.8" y="238.8" width="3" height="13.2" rx="1.2"/></clipPath>
<g clip-path="url(#hc0)"><g filter="url(#jet)"><rect x="104.10000000000001" y="217.20000000000002" width="54.4" height="56.4" fill="rgb(107,107,107)"/><ellipse cx="131" cy="264" rx="20" ry="9" fill="rgb(128,128,128)" filter="url(#bl10)"/><ellipse cx="110" cy="250" rx="5" ry="14" fill="rgb(153,153,153)" filter="url(#bl8)"/><ellipse cx="152" cy="252" rx="5" ry="12" fill="rgb(143,143,143)" filter="url(#bl8)"/><ellipse cx="145" cy="222" rx="9" ry="4" fill="rgb(168,168,168)" filter="url(#bl6)"/><ellipse cx="151" cy="229" rx="6" ry="11" fill="rgb(189,189,189)" filter="url(#bl6)" transform="rotate(30 151 229)"/><ellipse cx="154" cy="232" rx="4" ry="10" fill="rgb(224,224,224)" filter="url(#bl5)" transform="rotate(30 154 232)"/><ellipse cx="110" cy="234" rx="4" ry="6" fill="rgb(76,76,76)" filter="url(#bl5)"/><ellipse cx="119" cy="222" rx="16" ry="5.5" fill="rgb(51,51,51)" filter="url(#bl6)" transform="rotate(-28 119 222)"/><ellipse cx="118" cy="220" rx="14" ry="4" fill="rgb(10,10,10)" filter="url(#bl4)" transform="rotate(-28 118 220)"/><ellipse cx="119" cy="240" rx="7" ry="9" fill="rgb(158,158,158)" filter="url(#bl6)"/><ellipse cx="119" cy="239.5" rx="4" ry="5.5" fill="rgb(199,199,199)" filter="url(#bl5)"/><ellipse cx="116" cy="254.4" rx="11" ry="10" fill="rgb(163,163,163)" filter="url(#bl8)"/><ellipse cx="116.5" cy="254.4" rx="7.5" ry="7.5" fill="rgb(204,204,204)" filter="url(#bl6)"/><ellipse cx="116.5" cy="255" rx="4.5" ry="4.5" fill="rgb(224,224,224)" filter="url(#bl5)"/><ellipse cx="136" cy="239.5" rx="8" ry="11" fill="rgb(87,87,87)" filter="url(#bl8)" transform="rotate(18 136 239.5)"/><ellipse cx="136" cy="239.5" rx="5" ry="8.5" fill="rgb(51,51,51)" filter="url(#bl6)" transform="rotate(18 136 239.5)"/><ellipse cx="135.5" cy="241.5" rx="3" ry="5" fill="rgb(33,33,33)" filter="url(#bl5)"/><ellipse cx="138.5" cy="232.5" rx="3" ry="3" fill="rgb(41,41,41)" filter="url(#bl4)"/><ellipse cx="140" cy="259" rx="7.5" ry="6.5" fill="rgb(158,158,158)" filter="url(#bl6)"/><ellipse cx="140" cy="259" rx="4.5" ry="3.5" fill="rgb(191,191,191)" filter="url(#bl5)"/></g></g>
<g fill="none" stroke="#333" stroke-width="0.6"><rect x="105.8" y="238.8" width="3" height="13.2" rx="1.2"/><rect x="153.8" y="238.8" width="3" height="13.2" rx="1.2"/></g>
<ellipse cx="131.3" cy="245.4" rx="23.2" ry="24.9" fill="none" stroke="#1a1a1a" stroke-width="0.75"/>
<path d="M127.1 221.1 L130.3 216.9 Q131.3 216.1 132.3 216.9 L135.5 221.1" fill="none" stroke="#333" stroke-width="0.6"/>
<g fill="#1a1a1a" opacity="0.85"><circle cx="120.4" cy="231.8" r="0.65"/><circle cx="131.3" cy="231.8" r="0.65"/><circle cx="142.2" cy="231.8" r="0.65"/><circle cx="120.4" cy="238.3" r="0.65"/><circle cx="131.3" cy="238.3" r="0.65"/><circle cx="142.2" cy="238.3" r="0.65"/><circle cx="120.4" cy="244.9" r="0.65"/><circle cx="131.3" cy="244.9" r="0.65"/><circle cx="142.2" cy="244.9" r="0.65"/><circle cx="120.4" cy="251.7" r="0.65"/><circle cx="131.3" cy="251.7" r="0.65"/><circle cx="142.2" cy="251.7" r="0.65"/><circle cx="120.4" cy="258.2" r="0.65"/><circle cx="131.3" cy="258.2" r="0.65"/><circle cx="142.2" cy="258.2" r="0.65"/></g>
<clipPath id="hc1"><ellipse cx="198.5" cy="245.4" rx="24.1" ry="27.1"/><rect x="173.1" y="238.8" width="3" height="13.2" rx="1.2"/><rect x="220.9" y="238.8" width="3" height="13.2" rx="1.2"/></clipPath>
<g clip-path="url(#hc1)"><g filter="url(#jet)"><rect x="171.4" y="216.3" width="54.2" height="58.2" fill="rgb(5,5,5)"/><ellipse cx="198" cy="242" rx="27" ry="28" fill="rgb(43,43,43)" filter="url(#bl10)"/><ellipse cx="198" cy="240" rx="26" ry="26" fill="rgb(84,84,84)" filter="url(#bl10)"/><ellipse cx="197" cy="238" rx="25" ry="22" fill="rgb(115,115,115)" filter="url(#bl10)"/><ellipse cx="196" cy="237" rx="23" ry="19.5" fill="rgb(143,143,143)" filter="url(#bl9)"/><ellipse cx="196" cy="237" rx="21" ry="17.5" fill="rgb(168,168,168)" filter="url(#bl8)"/><ellipse cx="195" cy="237" rx="18" ry="15.5" fill="rgb(199,199,199)" filter="url(#bl8)"/><ellipse cx="194" cy="238" rx="14.5" ry="13" fill="rgb(222,222,222)" filter="url(#bl8)"/><ellipse cx="191" cy="239" rx="8" ry="8" fill="rgb(245,245,245)" filter="url(#bl6)"/><ellipse cx="175" cy="250" rx="4" ry="12" fill="rgb(46,46,46)" filter="url(#bl8)"/><ellipse cx="198" cy="220" rx="15" ry="3" fill="rgb(178,178,178)" filter="url(#bl5)"/></g></g>
<g fill="none" stroke="#333" stroke-width="0.6"><rect x="173.1" y="238.8" width="3" height="13.2" rx="1.2"/><rect x="220.9" y="238.8" width="3" height="13.2" rx="1.2"/></g>
<ellipse cx="198.5" cy="245.4" rx="23.1" ry="25.8" fill="none" stroke="#1a1a1a" stroke-width="0.75"/>
<path d="M194.3 220.2 L197.5 216.0 Q198.5 215.2 199.5 216.0 L202.7 220.2" fill="none" stroke="#333" stroke-width="0.6"/>
<g fill="#1a1a1a" opacity="0.85"><circle cx="187.7" cy="231.3" r="0.65"/><circle cx="198.5" cy="231.3" r="0.65"/><circle cx="209.3" cy="231.3" r="0.65"/><circle cx="187.7" cy="238.1" r="0.65"/><circle cx="198.5" cy="238.1" r="0.65"/><circle cx="209.3" cy="238.1" r="0.65"/><circle cx="187.7" cy="244.9" r="0.65"/><circle cx="198.5" cy="244.9" r="0.65"/><circle cx="209.3" cy="244.9" r="0.65"/><circle cx="187.7" cy="251.9" r="0.65"/><circle cx="198.5" cy="251.9" r="0.65"/><circle cx="209.3" cy="251.9" r="0.65"/><circle cx="187.7" cy="258.7" r="0.65"/><circle cx="198.5" cy="258.7" r="0.65"/><circle cx="209.3" cy="258.7" r="0.65"/></g>
<clipPath id="hc2"><ellipse cx="265.5" cy="245.8" rx="24.1" ry="25.8"/><rect x="240.1" y="239.2" width="3" height="13.2" rx="1.2"/><rect x="287.9" y="239.2" width="3" height="13.2" rx="1.2"/></clipPath>
<g clip-path="url(#hc2)"><g filter="url(#jet)"><rect x="238.4" y="218.0" width="54.2" height="55.6" fill="rgb(92,92,92)"/><ellipse cx="266" cy="246" rx="19.5" ry="24" fill="rgb(122,122,122)" filter="url(#bl10)"/><ellipse cx="266" cy="245" rx="15.5" ry="22.5" fill="rgb(153,153,153)" filter="url(#bl9)"/><ellipse cx="266" cy="245" rx="12.5" ry="20.5" fill="rgb(184,184,184)" filter="url(#bl8)"/><ellipse cx="266" cy="244" rx="9.5" ry="18" fill="rgb(217,217,217)" filter="url(#bl8)"/><ellipse cx="266" cy="241" rx="5" ry="11" fill="rgb(245,245,245)" filter="url(#bl6)"/><ellipse cx="245" cy="243" rx="5" ry="17" fill="rgb(56,56,56)" filter="url(#bl8)"/><ellipse cx="243.5" cy="243" rx="4" ry="13" fill="rgb(15,15,15)" filter="url(#bl8)"/><ellipse cx="289.5" cy="245" rx="4" ry="14" fill="rgb(76,76,76)" filter="url(#bl6)"/></g></g>
<g fill="none" stroke="#333" stroke-width="0.6"><rect x="240.1" y="239.2" width="3" height="13.2" rx="1.2"/><rect x="287.9" y="239.2" width="3" height="13.2" rx="1.2"/></g>
<ellipse cx="265.5" cy="245.8" rx="23.1" ry="24.5" fill="none" stroke="#1a1a1a" stroke-width="0.75"/>
<path d="M261.3 221.9 L264.5 217.7 Q265.5 216.9 266.5 217.7 L269.7 221.9" fill="none" stroke="#333" stroke-width="0.6"/>
<g fill="#1a1a1a" opacity="0.85"><circle cx="254.7" cy="232.4" r="0.65"/><circle cx="265.5" cy="232.4" r="0.65"/><circle cx="276.3" cy="232.4" r="0.65"/><circle cx="254.7" cy="238.8" r="0.65"/><circle cx="265.5" cy="238.8" r="0.65"/><circle cx="276.3" cy="238.8" r="0.65"/><circle cx="254.7" cy="245.3" r="0.65"/><circle cx="265.5" cy="245.3" r="0.65"/><circle cx="276.3" cy="245.3" r="0.65"/><circle cx="254.7" cy="252.0" r="0.65"/><circle cx="265.5" cy="252.0" r="0.65"/><circle cx="276.3" cy="252.0" r="0.65"/><circle cx="254.7" cy="258.4" r="0.65"/><circle cx="265.5" cy="258.4" r="0.65"/><circle cx="276.3" cy="258.4" r="0.65"/></g>
<clipPath id="hc3"><ellipse cx="125.3" cy="322.4" rx="23.5" ry="29.6"/><rect x="100.5" y="315.8" width="3" height="13.2" rx="1.2"/><rect x="147.1" y="315.8" width="3" height="13.2" rx="1.2"/></clipPath>
<g clip-path="url(#hc3)"><g filter="url(#jet)"><rect x="98.8" y="290.79999999999995" width="53.0" height="63.2" fill="rgb(133,133,133)"/><ellipse cx="124.4" cy="314" rx="18" ry="12" fill="rgb(107,107,107)" filter="url(#bl10)"/><ellipse cx="124.4" cy="315" rx="10" ry="7" fill="rgb(94,94,94)" filter="url(#bl6)"/><ellipse cx="123" cy="297" rx="12" ry="7" fill="rgb(51,51,51)" filter="url(#bl8)"/><ellipse cx="121" cy="296" rx="7" ry="4" fill="rgb(8,8,8)" filter="url(#bl5)"/><ellipse cx="144" cy="306.8" rx="7" ry="9" fill="rgb(168,168,168)" filter="url(#bl6)"/><ellipse cx="145" cy="306" rx="4" ry="6" fill="rgb(209,209,209)" filter="url(#bl5)"/><ellipse cx="127" cy="339" rx="19" ry="15" fill="rgb(158,158,158)" filter="url(#bl10)"/><ellipse cx="127" cy="339" rx="14" ry="11" fill="rgb(194,194,194)" filter="url(#bl8)"/><ellipse cx="126.5" cy="339" rx="10" ry="8" fill="rgb(222,222,222)" filter="url(#bl6)"/><ellipse cx="126" cy="338" rx="5" ry="5" fill="rgb(247,247,247)" filter="url(#bl5)"/><ellipse cx="104" cy="325" rx="4" ry="16" fill="rgb(153,153,153)" filter="url(#bl8)"/><ellipse cx="112" cy="346" rx="6" ry="5" fill="rgb(189,189,189)" filter="url(#bl6)"/></g></g>
<g fill="none" stroke="#333" stroke-width="0.6"><rect x="100.5" y="315.8" width="3" height="13.2" rx="1.2"/><rect x="147.1" y="315.8" width="3" height="13.2" rx="1.2"/></g>
<ellipse cx="125.3" cy="322.4" rx="22.5" ry="28.3" fill="none" stroke="#1a1a1a" stroke-width="0.75"/>
<path d="M121.1 294.7 L124.3 290.5 Q125.3 289.7 126.3 290.5 L129.5 294.7" fill="none" stroke="#333" stroke-width="0.6"/>
<g fill="#1a1a1a" opacity="0.85"><circle cx="114.7" cy="307.0" r="0.65"/><circle cx="125.3" cy="307.0" r="0.65"/><circle cx="135.9" cy="307.0" r="0.65"/><circle cx="114.7" cy="314.4" r="0.65"/><circle cx="125.3" cy="314.4" r="0.65"/><circle cx="135.9" cy="314.4" r="0.65"/><circle cx="114.7" cy="321.8" r="0.65"/><circle cx="125.3" cy="321.8" r="0.65"/><circle cx="135.9" cy="321.8" r="0.65"/><circle cx="114.7" cy="329.5" r="0.65"/><circle cx="125.3" cy="329.5" r="0.65"/><circle cx="135.9" cy="329.5" r="0.65"/><circle cx="114.7" cy="336.9" r="0.65"/><circle cx="125.3" cy="336.9" r="0.65"/><circle cx="135.9" cy="336.9" r="0.65"/></g>
<clipPath id="hc4"><ellipse cx="197.1" cy="322.4" rx="23.3" ry="28.7"/><rect x="172.5" y="315.8" width="3" height="13.2" rx="1.2"/><rect x="218.7" y="315.8" width="3" height="13.2" rx="1.2"/></clipPath>
<g clip-path="url(#hc4)"><g filter="url(#jet)"><rect x="170.79999999999998" y="291.7" width="52.6" height="61.4" fill="rgb(97,97,97)"/><ellipse cx="195" cy="309" rx="25" ry="17" fill="rgb(140,140,140)" filter="url(#bl10)"/><ellipse cx="183" cy="322" rx="9" ry="9" fill="rgb(133,133,133)" filter="url(#bl9)"/><ellipse cx="197" cy="305" rx="22" ry="12" fill="rgb(158,158,158)" filter="url(#bl9)"/><ellipse cx="201" cy="304" rx="16" ry="8" fill="rgb(173,173,173)" filter="url(#bl8)"/><ellipse cx="210" cy="303" rx="10" ry="9" fill="rgb(204,204,204)" filter="url(#bl6)"/><ellipse cx="213" cy="303" rx="5.5" ry="5.5" fill="rgb(242,242,242)" filter="url(#bl5)"/><ellipse cx="178" cy="307" rx="5" ry="7" fill="rgb(199,199,199)" filter="url(#bl5)"/><ellipse cx="185" cy="334" rx="8" ry="6" fill="rgb(51,51,51)" filter="url(#bl8)"/><ellipse cx="214.3" cy="331.3" rx="7" ry="11" fill="rgb(36,36,36)" filter="url(#bl8)"/><ellipse cx="215.5" cy="331" rx="4.5" ry="8" fill="rgb(8,8,8)" filter="url(#bl5)"/></g></g>
<g fill="none" stroke="#333" stroke-width="0.6"><rect x="172.5" y="315.8" width="3" height="13.2" rx="1.2"/><rect x="218.7" y="315.8" width="3" height="13.2" rx="1.2"/></g>
<ellipse cx="197.1" cy="322.4" rx="22.3" ry="27.4" fill="none" stroke="#1a1a1a" stroke-width="0.75"/>
<path d="M192.9 295.6 L196.1 291.4 Q197.1 290.6 198.1 291.4 L201.3 295.6" fill="none" stroke="#333" stroke-width="0.6"/>
<g fill="#1a1a1a" opacity="0.85"><circle cx="186.6" cy="307.5" r="0.65"/><circle cx="197.1" cy="307.5" r="0.65"/><circle cx="207.6" cy="307.5" r="0.65"/><circle cx="186.6" cy="314.7" r="0.65"/><circle cx="197.1" cy="314.7" r="0.65"/><circle cx="207.6" cy="314.7" r="0.65"/><circle cx="186.6" cy="321.8" r="0.65"/><circle cx="197.1" cy="321.8" r="0.65"/><circle cx="207.6" cy="321.8" r="0.65"/><circle cx="186.6" cy="329.3" r="0.65"/><circle cx="197.1" cy="329.3" r="0.65"/><circle cx="207.6" cy="329.3" r="0.65"/><circle cx="186.6" cy="336.5" r="0.65"/><circle cx="197.1" cy="336.5" r="0.65"/><circle cx="207.6" cy="336.5" r="0.65"/></g>
<clipPath id="hc5"><ellipse cx="267.8" cy="322.3" rx="24" ry="29.7"/><rect x="242.5" y="315.7" width="3" height="13.2" rx="1.2"/><rect x="290.1" y="315.7" width="3" height="13.2" rx="1.2"/></clipPath>
<g clip-path="url(#hc5)"><g filter="url(#jet)"><rect x="240.8" y="290.6" width="54" height="63.4" fill="rgb(43,43,43)"/><ellipse cx="268" cy="299" rx="18" ry="6" fill="rgb(10,10,10)" filter="url(#bl8)"/><ellipse cx="268" cy="325" rx="21" ry="26" fill="rgb(84,84,84)" filter="url(#bl10)"/><ellipse cx="268" cy="326" rx="18" ry="23.5" fill="rgb(112,112,112)" filter="url(#bl10)"/><ellipse cx="268" cy="326" rx="15" ry="20" fill="rgb(140,140,140)" filter="url(#bl9)"/><ellipse cx="268" cy="325" rx="11" ry="14.5" fill="rgb(166,166,166)" filter="url(#bl8)"/><ellipse cx="268" cy="321" rx="10" ry="6" fill="rgb(184,184,184)" filter="url(#bl8)"/><ellipse cx="268" cy="327" rx="8" ry="11" fill="rgb(194,194,194)" filter="url(#bl8)"/><ellipse cx="268" cy="322" rx="8.5" ry="5" fill="rgb(209,209,209)" filter="url(#bl8)"/><ellipse cx="268" cy="327" rx="6" ry="8.5" fill="rgb(222,222,222)" filter="url(#bl6)"/><ellipse cx="268.3" cy="327.5" rx="3.5" ry="5.5" fill="rgb(247,247,247)" filter="url(#bl5)"/><ellipse cx="286" cy="340" rx="5" ry="8" fill="rgb(13,13,13)" filter="url(#bl8)"/></g></g>
<g fill="none" stroke="#333" stroke-width="0.6"><rect x="242.5" y="315.7" width="3" height="13.2" rx="1.2"/><rect x="290.1" y="315.7" width="3" height="13.2" rx="1.2"/></g>
<ellipse cx="267.8" cy="322.3" rx="23.0" ry="28.4" fill="none" stroke="#1a1a1a" stroke-width="0.75"/>
<path d="M263.6 294.5 L266.8 290.3 Q267.8 289.5 268.8 290.3 L272.0 294.5" fill="none" stroke="#333" stroke-width="0.6"/>
<g fill="#1a1a1a" opacity="0.85"><circle cx="257.0" cy="306.9" r="0.65"/><circle cx="267.8" cy="306.9" r="0.65"/><circle cx="278.6" cy="306.9" r="0.65"/><circle cx="257.0" cy="314.3" r="0.65"/><circle cx="267.8" cy="314.3" r="0.65"/><circle cx="278.6" cy="314.3" r="0.65"/><circle cx="257.0" cy="321.7" r="0.65"/><circle cx="267.8" cy="321.7" r="0.65"/><circle cx="278.6" cy="321.7" r="0.65"/><circle cx="257.0" cy="329.4" r="0.65"/><circle cx="267.8" cy="329.4" r="0.65"/><circle cx="278.6" cy="329.4" r="0.65"/><circle cx="257.0" cy="336.9" r="0.65"/><circle cx="267.8" cy="336.9" r="0.65"/><circle cx="278.6" cy="336.9" r="0.65"/></g>
<clipPath id="hc6"><ellipse cx="484.8" cy="247.4" rx="23" ry="27"/><rect x="460.5" y="240.8" width="3" height="13.2" rx="1.2"/><rect x="506.1" y="240.8" width="3" height="13.2" rx="1.2"/></clipPath>
<g clip-path="url(#hc6)"><g filter="url(#jet)"><rect x="458.8" y="218.4" width="52" height="58" fill="rgb(107,107,107)"/><ellipse cx="485" cy="273" rx="18" ry="8" fill="rgb(158,158,158)" filter="url(#bl8)"/><ellipse cx="494" cy="274" rx="7" ry="4" fill="rgb(194,194,194)" filter="url(#bl5)"/><ellipse cx="464" cy="245" rx="4" ry="14" fill="rgb(122,122,122)" filter="url(#bl8)"/><ellipse cx="485.5" cy="246" rx="12" ry="19" fill="rgb(71,71,71)" filter="url(#bl9)"/><ellipse cx="485.5" cy="236" rx="6" ry="9" fill="rgb(36,36,36)" filter="url(#bl8)"/><ellipse cx="485.5" cy="251" rx="10" ry="12" fill="rgb(26,26,26)" filter="url(#bl8)"/><ellipse cx="485.5" cy="249" rx="5.5" ry="9" fill="rgb(10,10,10)" filter="url(#bl6)"/><ellipse cx="469" cy="228" rx="9" ry="11" fill="rgb(173,173,173)" filter="url(#bl8)" transform="rotate(40 469 228)"/><ellipse cx="466.5" cy="227" rx="5" ry="10" fill="rgb(224,224,224)" filter="url(#bl5)" transform="rotate(40 466.5 227)"/><ellipse cx="498" cy="234" rx="9" ry="12" fill="rgb(163,163,163)" filter="url(#bl8)"/><ellipse cx="503.5" cy="237" rx="4" ry="10" fill="rgb(224,224,224)" filter="url(#bl5)"/></g></g>
<g fill="none" stroke="#333" stroke-width="0.6"><rect x="460.5" y="240.8" width="3" height="13.2" rx="1.2"/><rect x="506.1" y="240.8" width="3" height="13.2" rx="1.2"/></g>
<ellipse cx="484.8" cy="247.4" rx="22.0" ry="25.7" fill="none" stroke="#1a1a1a" stroke-width="0.75"/>
<path d="M480.6 222.3 L483.8 218.1 Q484.8 217.3 485.8 218.1 L489.0 222.3" fill="none" stroke="#333" stroke-width="0.6"/>
<g fill="#1a1a1a" opacity="0.85"><circle cx="474.4" cy="233.4" r="0.65"/><circle cx="484.8" cy="233.4" r="0.65"/><circle cx="495.2" cy="233.4" r="0.65"/><circle cx="474.4" cy="240.1" r="0.65"/><circle cx="484.8" cy="240.1" r="0.65"/><circle cx="495.2" cy="240.1" r="0.65"/><circle cx="474.4" cy="246.9" r="0.65"/><circle cx="484.8" cy="246.9" r="0.65"/><circle cx="495.2" cy="246.9" r="0.65"/><circle cx="474.4" cy="253.9" r="0.65"/><circle cx="484.8" cy="253.9" r="0.65"/><circle cx="495.2" cy="253.9" r="0.65"/><circle cx="474.4" cy="260.6" r="0.65"/><circle cx="484.8" cy="260.6" r="0.65"/><circle cx="495.2" cy="260.6" r="0.65"/></g>
<clipPath id="hc7"><ellipse cx="554" cy="247.9" rx="22.4" ry="27.4"/><rect x="530.3" y="241.3" width="3" height="13.2" rx="1.2"/><rect x="574.7" y="241.3" width="3" height="13.2" rx="1.2"/></clipPath>
<g clip-path="url(#hc7)"><g filter="url(#jet)"><rect x="528.6" y="218.5" width="50.8" height="58.8" fill="rgb(97,97,97)"/><ellipse cx="554" cy="273" rx="26" ry="16" fill="rgb(128,128,128)" filter="url(#bl10)"/><ellipse cx="554" cy="275" rx="24" ry="12.5" fill="rgb(158,158,158)" filter="url(#bl9)"/><ellipse cx="554" cy="277" rx="22" ry="9" fill="rgb(191,191,191)" filter="url(#bl8)"/><ellipse cx="554" cy="279" rx="21" ry="6.5" fill="rgb(222,222,222)" filter="url(#bl6)"/><ellipse cx="540" cy="274" rx="7" ry="5" fill="rgb(242,242,242)" filter="url(#bl5)"/><ellipse cx="542.6" cy="241.5" rx="7" ry="10.5" fill="rgb(51,51,51)" filter="url(#bl6)"/><ellipse cx="542.6" cy="241.5" rx="4" ry="7" fill="rgb(26,26,26)" filter="url(#bl5)"/><ellipse cx="565.4" cy="244.2" rx="8.5" ry="9" fill="rgb(38,38,38)" filter="url(#bl6)"/><ellipse cx="566" cy="244.5" rx="5.5" ry="6" fill="rgb(8,8,8)" filter="url(#bl5)"/><ellipse cx="561.8" cy="231.4" rx="5.5" ry="5.5" fill="rgb(158,158,158)" filter="url(#bl5)"/><ellipse cx="561.8" cy="231.4" rx="3.2" ry="3.2" fill="rgb(214,214,214)" filter="url(#bl4)"/><ellipse cx="533" cy="238" rx="3" ry="12" fill="rgb(122,122,122)" filter="url(#bl6)"/><ellipse cx="548" cy="224" rx="8" ry="4" fill="rgb(112,112,112)" filter="url(#bl6)"/></g></g>
<g fill="none" stroke="#333" stroke-width="0.6"><rect x="530.3" y="241.3" width="3" height="13.2" rx="1.2"/><rect x="574.7" y="241.3" width="3" height="13.2" rx="1.2"/></g>
<ellipse cx="554" cy="247.9" rx="21.4" ry="26.099999999999998" fill="none" stroke="#1a1a1a" stroke-width="0.75"/>
<path d="M549.8 222.4 L553.0 218.2 Q554.0 217.4 555.0 218.2 L558.2 222.4" fill="none" stroke="#333" stroke-width="0.6"/>
<g fill="#1a1a1a" opacity="0.85"><circle cx="543.9" cy="233.7" r="0.65"/><circle cx="554.0" cy="233.7" r="0.65"/><circle cx="564.1" cy="233.7" r="0.65"/><circle cx="543.9" cy="240.5" r="0.65"/><circle cx="554.0" cy="240.5" r="0.65"/><circle cx="564.1" cy="240.5" r="0.65"/><circle cx="543.9" cy="247.4" r="0.65"/><circle cx="554.0" cy="247.4" r="0.65"/><circle cx="564.1" cy="247.4" r="0.65"/><circle cx="543.9" cy="254.5" r="0.65"/><circle cx="554.0" cy="254.5" r="0.65"/><circle cx="564.1" cy="254.5" r="0.65"/><circle cx="543.9" cy="261.3" r="0.65"/><circle cx="554.0" cy="261.3" r="0.65"/><circle cx="564.1" cy="261.3" r="0.65"/></g>
<clipPath id="hc8"><ellipse cx="621.5" cy="247.9" rx="22.9" ry="27.4"/><rect x="597.3" y="241.3" width="3" height="13.2" rx="1.2"/><rect x="642.7" y="241.3" width="3" height="13.2" rx="1.2"/></clipPath>
<g clip-path="url(#hc8)"><g filter="url(#jet)"><rect x="595.6" y="218.5" width="51.8" height="58.8" fill="rgb(117,117,117)"/><ellipse cx="621" cy="227" rx="28" ry="13" fill="rgb(76,76,76)" filter="url(#bl10)"/><ellipse cx="608" cy="233" rx="11" ry="10" fill="rgb(41,41,41)" filter="url(#bl8)"/><ellipse cx="621" cy="224" rx="5" ry="5" fill="rgb(87,87,87)" filter="url(#bl8)"/><ellipse cx="631.6" cy="232.3" rx="7" ry="7" fill="rgb(26,26,26)" filter="url(#bl6)"/><ellipse cx="631.6" cy="232.3" rx="4" ry="4" fill="rgb(5,5,5)" filter="url(#bl5)"/><ellipse cx="621.5" cy="266" rx="18" ry="16" fill="rgb(158,158,158)" filter="url(#bl10)"/><ellipse cx="621.5" cy="267" rx="14" ry="14" fill="rgb(189,189,189)" filter="url(#bl9)"/><ellipse cx="621.5" cy="253" rx="7" ry="9" fill="rgb(158,158,158)" filter="url(#bl8)"/><ellipse cx="622" cy="267" rx="10.5" ry="14" fill="rgb(219,219,219)" filter="url(#bl8)"/><ellipse cx="622.5" cy="263" rx="5" ry="8" fill="rgb(247,247,247)" filter="url(#bl5)"/><ellipse cx="621.5" cy="277" rx="18" ry="5" fill="rgb(214,214,214)" filter="url(#bl6)"/></g></g>
<g fill="none" stroke="#333" stroke-width="0.6"><rect x="597.3" y="241.3" width="3" height="13.2" rx="1.2"/><rect x="642.7" y="241.3" width="3" height="13.2" rx="1.2"/></g>
<ellipse cx="621.5" cy="247.9" rx="21.9" ry="26.099999999999998" fill="none" stroke="#1a1a1a" stroke-width="0.75"/>
<path d="M617.3 222.4 L620.5 218.2 Q621.5 217.4 622.5 218.2 L625.7 222.4" fill="none" stroke="#333" stroke-width="0.6"/>
<g fill="#1a1a1a" opacity="0.85"><circle cx="611.2" cy="233.7" r="0.65"/><circle cx="621.5" cy="233.7" r="0.65"/><circle cx="631.8" cy="233.7" r="0.65"/><circle cx="611.2" cy="240.5" r="0.65"/><circle cx="621.5" cy="240.5" r="0.65"/><circle cx="631.8" cy="240.5" r="0.65"/><circle cx="611.2" cy="247.4" r="0.65"/><circle cx="621.5" cy="247.4" r="0.65"/><circle cx="631.8" cy="247.4" r="0.65"/><circle cx="611.2" cy="254.5" r="0.65"/><circle cx="621.5" cy="254.5" r="0.65"/><circle cx="631.8" cy="254.5" r="0.65"/><circle cx="611.2" cy="261.3" r="0.65"/><circle cx="621.5" cy="261.3" r="0.65"/><circle cx="631.8" cy="261.3" r="0.65"/></g>
<clipPath id="hc9"><ellipse cx="484" cy="321.4" rx="23.3" ry="28.8"/><rect x="459.4" y="314.8" width="3" height="13.2" rx="1.2"/><rect x="505.6" y="314.8" width="3" height="13.2" rx="1.2"/></clipPath>
<g clip-path="url(#hc9)"><g filter="url(#jet)"><rect x="457.7" y="290.59999999999997" width="52.6" height="61.6" fill="rgb(92,92,92)"/><ellipse cx="484.4" cy="322" rx="7" ry="24" fill="rgb(133,133,133)" filter="url(#bl8)"/><ellipse cx="484.4" cy="326" rx="5" ry="15" fill="rgb(148,148,148)" filter="url(#bl6)"/><ellipse cx="476" cy="299" rx="10" ry="9" fill="rgb(163,163,163)" filter="url(#bl8)"/><ellipse cx="476.5" cy="298.5" rx="7" ry="6" fill="rgb(204,204,204)" filter="url(#bl6)"/><ellipse cx="477" cy="298" rx="4.5" ry="4" fill="rgb(235,235,235)" filter="url(#bl5)"/><ellipse cx="501.5" cy="305.4" rx="6" ry="8" fill="rgb(173,173,173)" filter="url(#bl6)"/><ellipse cx="503.5" cy="305.4" rx="3.5" ry="5.5" fill="rgb(214,214,214)" filter="url(#bl5)"/><ellipse cx="468" cy="328.3" rx="9" ry="10" fill="rgb(36,36,36)" filter="url(#bl8)"/><ellipse cx="467" cy="329" rx="6" ry="7" fill="rgb(8,8,8)" filter="url(#bl6)"/><ellipse cx="465" cy="311" rx="5" ry="8" fill="rgb(51,51,51)" filter="url(#bl8)"/><ellipse cx="501" cy="327" rx="7" ry="14" fill="rgb(31,31,31)" filter="url(#bl8)"/><ellipse cx="503" cy="326" rx="4" ry="9" fill="rgb(8,8,8)" filter="url(#bl6)"/><ellipse cx="484" cy="346" rx="12" ry="5" fill="rgb(117,117,117)" filter="url(#bl8)"/></g></g>
<g fill="none" stroke="#333" stroke-width="0.6"><rect x="459.4" y="314.8" width="3" height="13.2" rx="1.2"/><rect x="505.6" y="314.8" width="3" height="13.2" rx="1.2"/></g>
<ellipse cx="484" cy="321.4" rx="22.3" ry="27.5" fill="none" stroke="#1a1a1a" stroke-width="0.75"/>
<path d="M479.8 294.5 L483.0 290.3 Q484.0 289.5 485.0 290.3 L488.2 294.5" fill="none" stroke="#333" stroke-width="0.6"/>
<g fill="#1a1a1a" opacity="0.85"><circle cx="473.5" cy="306.4" r="0.65"/><circle cx="484.0" cy="306.4" r="0.65"/><circle cx="494.5" cy="306.4" r="0.65"/><circle cx="473.5" cy="313.6" r="0.65"/><circle cx="484.0" cy="313.6" r="0.65"/><circle cx="494.5" cy="313.6" r="0.65"/><circle cx="473.5" cy="320.8" r="0.65"/><circle cx="484.0" cy="320.8" r="0.65"/><circle cx="494.5" cy="320.8" r="0.65"/><circle cx="473.5" cy="328.3" r="0.65"/><circle cx="484.0" cy="328.3" r="0.65"/><circle cx="494.5" cy="328.3" r="0.65"/><circle cx="473.5" cy="335.5" r="0.65"/><circle cx="484.0" cy="335.5" r="0.65"/><circle cx="494.5" cy="335.5" r="0.65"/></g>
<clipPath id="hc10"><ellipse cx="554" cy="321.4" rx="22.4" ry="28.8"/><rect x="530.3" y="314.8" width="3" height="13.2" rx="1.2"/><rect x="574.7" y="314.8" width="3" height="13.2" rx="1.2"/></clipPath>
<g clip-path="url(#hc10)"><g filter="url(#jet)"><rect x="528.6" y="290.59999999999997" width="50.8" height="61.6" fill="rgb(107,107,107)"/><ellipse cx="560" cy="305" rx="14" ry="8" fill="rgb(76,76,76)" filter="url(#bl10)"/><ellipse cx="543.5" cy="318.5" rx="11" ry="16" fill="rgb(41,41,41)" filter="url(#bl9)"/><ellipse cx="543.5" cy="318" rx="7" ry="10" fill="rgb(10,10,10)" filter="url(#bl6)"/><ellipse cx="545.3" cy="296" rx="11" ry="6" fill="rgb(168,168,168)" filter="url(#bl6)"/><ellipse cx="545.3" cy="295" rx="7" ry="4" fill="rgb(224,224,224)" filter="url(#bl5)"/><ellipse cx="572.5" cy="304.5" rx="4" ry="6" fill="rgb(158,158,158)" filter="url(#bl5)"/><ellipse cx="554" cy="346" rx="16" ry="6" fill="rgb(128,128,128)" filter="url(#bl8)"/></g></g>
<g fill="none" stroke="#333" stroke-width="0.6"><rect x="530.3" y="314.8" width="3" height="13.2" rx="1.2"/><rect x="574.7" y="314.8" width="3" height="13.2" rx="1.2"/></g>
<ellipse cx="554" cy="321.4" rx="21.4" ry="27.5" fill="none" stroke="#1a1a1a" stroke-width="0.75"/>
<path d="M549.8 294.5 L553.0 290.3 Q554.0 289.5 555.0 290.3 L558.2 294.5" fill="none" stroke="#333" stroke-width="0.6"/>
<g fill="#1a1a1a" opacity="0.85"><circle cx="543.9" cy="306.4" r="0.65"/><circle cx="554.0" cy="306.4" r="0.65"/><circle cx="564.1" cy="306.4" r="0.65"/><circle cx="543.9" cy="313.6" r="0.65"/><circle cx="554.0" cy="313.6" r="0.65"/><circle cx="564.1" cy="313.6" r="0.65"/><circle cx="543.9" cy="320.8" r="0.65"/><circle cx="554.0" cy="320.8" r="0.65"/><circle cx="564.1" cy="320.8" r="0.65"/><circle cx="543.9" cy="328.3" r="0.65"/><circle cx="554.0" cy="328.3" r="0.65"/><circle cx="564.1" cy="328.3" r="0.65"/><circle cx="543.9" cy="335.5" r="0.65"/><circle cx="554.0" cy="335.5" r="0.65"/><circle cx="564.1" cy="335.5" r="0.65"/></g>
<clipPath id="hc11"><ellipse cx="621.7" cy="321.4" rx="23" ry="28.8"/><rect x="597.4" y="314.8" width="3" height="13.2" rx="1.2"/><rect x="643.0" y="314.8" width="3" height="13.2" rx="1.2"/></clipPath>
<g clip-path="url(#hc11)"><g filter="url(#jet)"><rect x="595.7" y="290.59999999999997" width="52" height="61.6" fill="rgb(115,115,115)"/><ellipse cx="603" cy="309" rx="8" ry="15" fill="rgb(36,36,36)" filter="url(#bl9)" transform="rotate(20 603 309)"/><ellipse cx="602.5" cy="311.8" rx="5" ry="10" fill="rgb(8,8,8)" filter="url(#bl6)" transform="rotate(20 602.5 311.8)"/><ellipse cx="632" cy="297" rx="11" ry="8" fill="rgb(46,46,46)" filter="url(#bl9)"/><ellipse cx="632" cy="297" rx="7" ry="5" fill="rgb(20,20,20)" filter="url(#bl6)"/><ellipse cx="619" cy="300" rx="5" ry="6" fill="rgb(97,97,97)" filter="url(#bl8)"/><ellipse cx="622.5" cy="329" rx="16" ry="19" fill="rgb(153,153,153)" filter="url(#bl10)"/><ellipse cx="622.5" cy="329" rx="12" ry="15" fill="rgb(184,184,184)" filter="url(#bl9)"/><ellipse cx="622.5" cy="329" rx="9" ry="12" fill="rgb(214,214,214)" filter="url(#bl8)"/><ellipse cx="622.5" cy="329" rx="5" ry="7" fill="rgb(247,247,247)" filter="url(#bl5)"/><ellipse cx="641" cy="336" rx="5" ry="10" fill="rgb(115,115,115)" filter="url(#bl8)"/><ellipse cx="622" cy="350" rx="14" ry="4" fill="rgb(133,133,133)" filter="url(#bl6)"/></g></g>
<g fill="none" stroke="#333" stroke-width="0.6"><rect x="597.4" y="314.8" width="3" height="13.2" rx="1.2"/><rect x="643.0" y="314.8" width="3" height="13.2" rx="1.2"/></g>
<ellipse cx="621.7" cy="321.4" rx="22.0" ry="27.5" fill="none" stroke="#1a1a1a" stroke-width="0.75"/>
<path d="M617.5 294.5 L620.7 290.3 Q621.7 289.5 622.7 290.3 L625.9 294.5" fill="none" stroke="#333" stroke-width="0.6"/>
<g fill="#1a1a1a" opacity="0.85"><circle cx="611.4" cy="306.4" r="0.65"/><circle cx="621.7" cy="306.4" r="0.65"/><circle cx="632.1" cy="306.4" r="0.65"/><circle cx="611.4" cy="313.6" r="0.65"/><circle cx="621.7" cy="313.6" r="0.65"/><circle cx="632.1" cy="313.6" r="0.65"/><circle cx="611.4" cy="320.8" r="0.65"/><circle cx="621.7" cy="320.8" r="0.65"/><circle cx="632.1" cy="320.8" r="0.65"/><circle cx="611.4" cy="328.3" r="0.65"/><circle cx="621.7" cy="328.3" r="0.65"/><circle cx="632.1" cy="328.3" r="0.65"/><circle cx="611.4" cy="335.5" r="0.65"/><circle cx="621.7" cy="335.5" r="0.65"/><circle cx="632.1" cy="335.5" r="0.65"/></g>
<rect x="309.4" y="219.8" width="7.7" height="120.80000000000001" fill="url(#gg)" filter="url(#jet)"/>
<text transform="translate(319.56,234.81) scale(1.142,1)" font-size="8.66" fill="#222">6</text><line x1="315.59999999999997" y1="232" x2="317.09999999999997" y2="232" stroke="#333" stroke-width="0.5"/><text transform="translate(319.82,253.70) scale(1.028,1)" font-size="8.79" fill="#222">4</text><line x1="315.59999999999997" y1="250.8" x2="317.09999999999997" y2="250.8" stroke="#333" stroke-width="0.5"/><text transform="translate(319.53,272.40) scale(1.195,1)" font-size="8.79" fill="#222">2</text><line x1="315.59999999999997" y1="269.5" x2="317.09999999999997" y2="269.5" stroke="#333" stroke-width="0.5"/><text transform="translate(319.60,291.41) scale(1.164,1)" font-size="8.59" fill="#222">0</text><line x1="315.59999999999997" y1="288.6" x2="317.09999999999997" y2="288.6" stroke="#333" stroke-width="0.5"/><text transform="translate(319.72,311.00) scale(0.916,1)" font-size="8.79" fill="#222">-2</text><line x1="315.59999999999997" y1="308.1" x2="317.09999999999997" y2="308.1" stroke="#333" stroke-width="0.5"/><text transform="translate(319.73,330.60) scale(0.870,1)" font-size="8.79" fill="#222">-4</text><line x1="315.59999999999997" y1="327.7" x2="317.09999999999997" y2="327.7" stroke="#333" stroke-width="0.5"/><text x="308.30" y="356.03" font-size="13.33" font-weight="bold">μV</text>
<rect x="663.3" y="220.3" width="7.7" height="120.30000000000001" fill="url(#gg)" filter="url(#jet)"/>
<text transform="translate(673.46,234.81) scale(1.142,1)" font-size="8.66" fill="#222">6</text><line x1="669.5" y1="232" x2="671.0" y2="232" stroke="#333" stroke-width="0.5"/><text transform="translate(673.72,253.70) scale(1.028,1)" font-size="8.79" fill="#222">4</text><line x1="669.5" y1="250.8" x2="671.0" y2="250.8" stroke="#333" stroke-width="0.5"/><text transform="translate(673.43,272.40) scale(1.195,1)" font-size="8.79" fill="#222">2</text><line x1="669.5" y1="269.5" x2="671.0" y2="269.5" stroke="#333" stroke-width="0.5"/><text transform="translate(673.50,291.41) scale(1.164,1)" font-size="8.59" fill="#222">0</text><line x1="669.5" y1="288.6" x2="671.0" y2="288.6" stroke="#333" stroke-width="0.5"/><text transform="translate(673.62,311.00) scale(0.916,1)" font-size="8.79" fill="#222">-2</text><line x1="669.5" y1="308.1" x2="671.0" y2="308.1" stroke="#333" stroke-width="0.5"/><text transform="translate(673.63,330.60) scale(0.870,1)" font-size="8.79" fill="#222">-4</text><line x1="669.5" y1="327.7" x2="671.0" y2="327.7" stroke="#333" stroke-width="0.5"/><text x="662.20" y="356.03" font-size="13.33" font-weight="bold">μV</text>
<path d="M303 264 Q304.5 280 303 296" fill="none" stroke="#dfe7f3" stroke-width="0.9"/><path d="M656.7 265 Q658.2 281 656.7 297" fill="none" stroke="#dfe7f3" stroke-width="0.9"/>
<g stroke="#b8b8b8" stroke-width="0.9"><path d="M123.2 275.4h2M127 275.4h1.6M129.8 275.4h3.3M191 275.4h2M194.6 275.4h1.6M197.6 275.4h3.6M258.6 275.4h2M262.2 275.4h1.6M265.2 275.4h3.8"/></g>
</svg></body></html>
